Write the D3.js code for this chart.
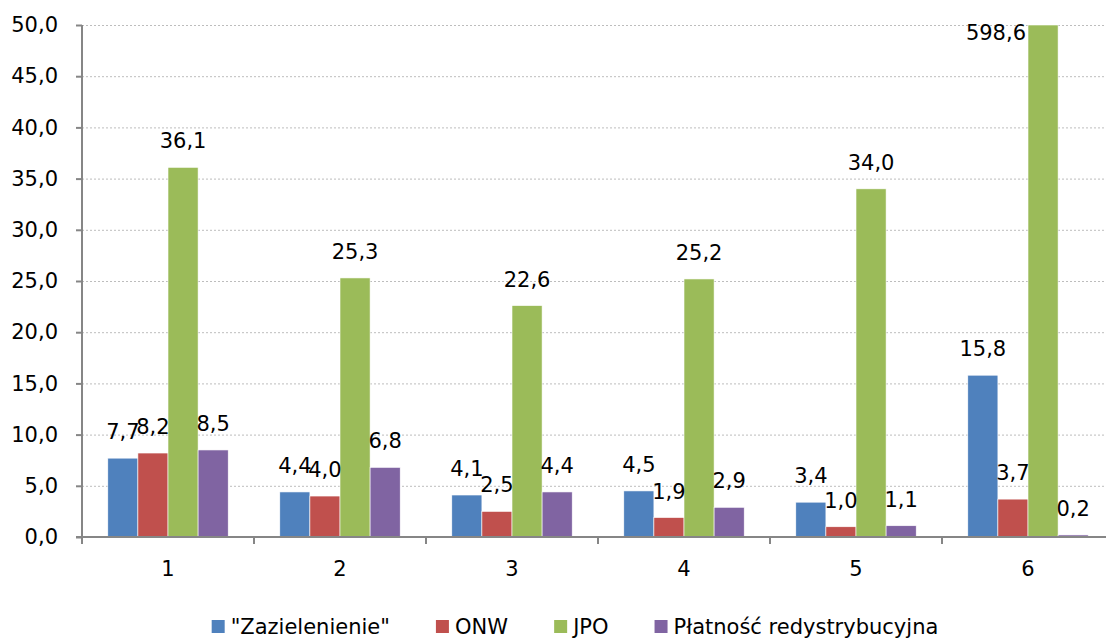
<!DOCTYPE html>
<meta charset="utf-8">
<style>
    body { margin: 0; background: #fff; }
    svg { display: block; }
    text {
        font-family: "DejaVu Sans", sans-serif;
        font-size: 21px;
        fill: #000;
    }
    .grid line {
        stroke: #bdbdbd;
        stroke-width: 1;
        stroke-dasharray: 2,2;
    }
    .axis path,
    .axis line {
        stroke: #868686;
        stroke-width: 2;
        fill: none;
    }
</style>
<body>
<svg></svg>

<script src="https://d3js.org/d3.v7.min.js"></script>
<script type='text/javascript'>

    // data
    var groups = ['1', '2', '3', '4', '5', '6'];
    var seriesNames = ['"Zazielenienie"', 'ONW', 'JPO', 'Płatność redystrybucyjna'];
    var zazielenienie = [7.7, 4.4, 4.1, 4.5, 3.4, 15.8];
    var onw = [8.2, 4.0, 2.5, 1.9, 1.0, 3.7];
    var jpo = [36.1, 25.3, 22.6, 25.2, 34.0, 598.6];
    var platnosc = [8.5, 6.8, 4.4, 2.9, 1.1, 0.2];
    var yTicks = [0, 5, 10, 15, 20, 25, 30, 35, 40, 45, 50];
    var colors = ['#4f81bd', '#c0504d', '#9bbb59', '#8064a2'];

    var seriesValues = [zazielenienie, onw, jpo, platnosc];

    var W = 1106, H = 638;
    var plotLeft = 82, plotRight = 1114, plotTop = 25, plotBottom = 537;

    var svg = d3.select('svg')
        .attr('width', W)
        .attr('height', H);

    var x0 = d3.scaleBand().domain(groups).range([plotLeft, plotRight]).paddingInner(0.3).paddingOuter(0.15);
    var x1 = d3.scaleBand().domain(d3.range(seriesNames.length)).range([0, x0.bandwidth()]);
    var y = d3.scaleLinear().domain([0, 50]).range([plotBottom, plotTop]);
    var fmt = function(v) { return d3.format('.1f')(v).replace('.', ','); };

    // gridlines
    svg.append('g')
        .attr('class', 'grid')
        .selectAll('line')
        .data(yTicks.filter(function(d) { return d > 0; }))
        .enter().append('line')
        .attr('x1', plotLeft)
        .attr('x2', W)
        .attr('y1', function(d) { return y(d) + 0.5; })
        .attr('y2', function(d) { return y(d) + 0.5; });

    // bars
    var data = [];
    groups.forEach(function(g, i) {
        seriesValues.forEach(function(vals, s) {
            data.push({group: g, s: s, value: vals[i]});
        });
    });

    var bars = svg.append('g').attr('class', 'bars');
    bars.selectAll('rect')
        .data(data)
        .enter().append('rect')
        .attr('x', function(d) { return x0(d.group) + x1(d.s); })
        .attr('y', function(d) { return y(Math.min(d.value, 50)); })
        .attr('width', x1.bandwidth())
        .attr('height', function(d) { return plotBottom - y(Math.min(d.value, 50)); })
        .attr('fill', function(d) { return colors[d.s]; })
        .attr('stroke', '#fff')
        .attr('stroke-width', 0.6);

    // data labels
    svg.append('g')
        .selectAll('text')
        .data(data)
        .enter().append('text')
        .attr('x', function(d) {
            var cx = x0(d.group) + x1(d.s);
            return d.value > 50 ? cx - 2 : cx + x1.bandwidth() / 2;
        })
        .attr('y', function(d) { return d.value > 50 ? y(50) + 15 : y(d.value) - 19; })
        .attr('text-anchor', function(d) { return d.value > 50 ? 'end' : 'middle'; })
        .text(function(d) { return fmt(d.value); });

    // y axis
    var yAxis = d3.axisLeft(y).tickValues(yTicks).tickSize(6).tickPadding(18).tickFormat(fmt);
    var yg = svg.append('g')
        .attr('class', 'y axis')
        .attr('transform', 'translate(' + plotLeft + ',0)')
        .call(yAxis);
    yg.select('.domain').attr('d', 'M0,' + plotTop + 'V' + plotBottom);
    yg.selectAll('text').attr('font-size', null).attr('font-family', null).attr('fill', '#000');

    // x axis
    var xg = svg.append('g')
        .attr('class', 'x axis')
        .attr('transform', 'translate(0,' + plotBottom + ')');
    xg.append('line')
        .attr('x1', plotLeft - 6).attr('x2', W)
        .attr('y1', 0).attr('y2', 0);
    xg.selectAll('line.tick')
        .data(groups)
        .enter().append('line')
        .attr('class', 'tick')
        .attr('x1', function(d) { return x0(d) - x0.step() * x0.paddingInner() / 2; })
        .attr('x2', function(d) { return x0(d) - x0.step() * x0.paddingInner() / 2; })
        .attr('y1', 0).attr('y2', 7);
    xg.selectAll('text')
        .data(groups)
        .enter().append('text')
        .attr('x', function(d) { return x0(d) + x0.bandwidth() / 2; })
        .attr('y', 39)
        .attr('text-anchor', 'middle')
        .text(function(d) { return d; });

    // legend
    var legendGap = 46;
    var legend = svg.append('g').attr('class', 'legend');
    var items = legend.selectAll('g')
        .data(seriesNames)
        .enter().append('g');
    items.append('rect')
        .attr('width', 13).attr('height', 13)
        .attr('y', 620)
        .attr('fill', function(d, i) { return colors[i]; });
    items.append('text')
        .attr('x', 19)
        .attr('y', 634)
        .text(function(d) { return d; });

    var pos = 0, offsets = [];
    items.each(function() {
        offsets.push(pos);
        pos += this.getBBox().width + legendGap;
    });
    pos -= legendGap;
    var start = 575 - pos / 2;
    items.attr('transform', function(d, i) { return 'translate(' + (start + offsets[i]) + ',0)'; });

</script>
